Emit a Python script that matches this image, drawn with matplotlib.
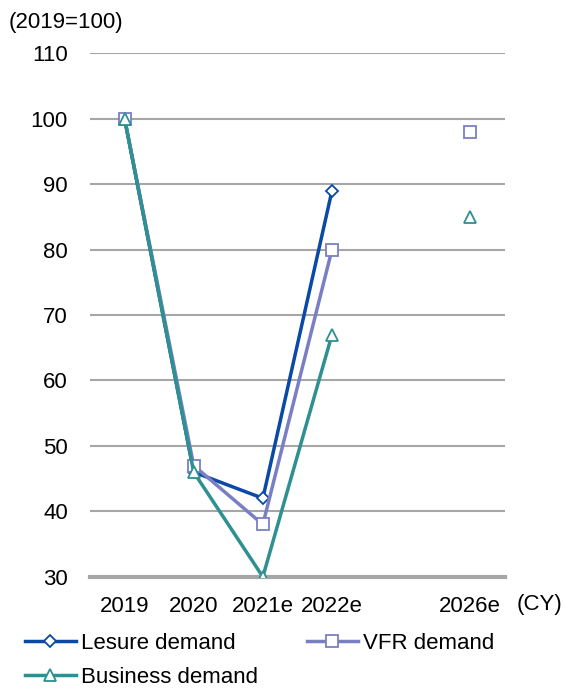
import numpy as np
import matplotlib.pyplot as plt
from matplotlib.lines import Line2D

plt.rcParams['font.family'] = ['Liberation Sans', 'DejaVu Sans']

years = ['2019', '2020', '2021e', '2022e', '', '2026e']
leisure = [100, 46, 42, 89, np.nan, np.nan]
vfr = [100, 47, 38, 80, np.nan, 98]
business = [100, 46, 30, 67, np.nan, 85]

c_leisure = '#0a4aa6'
c_vfr = '#7a7fc4'
c_business = '#2e9090'

FS = 16

fig = plt.figure(figsize=(5.66, 6.9), dpi=100)
ax = fig.add_axes([0.159, 0.164, 0.733, 0.759])

x = np.arange(len(years))
series = [
    ('Lesure demand', leisure, c_leisure, 'D', 6),
    ('VFR demand', vfr, c_vfr, 's', 9),
    ('Business demand', business, c_business, '^', 8.5),
]
for name, vals, col, mk, ms in series:
    ax.plot(x, vals, color=col, lw=2.5, marker=mk, ms=ms,
            mfc='white', mec=col, mew=1.3, zorder=3, label=name)

ax.set_xlim(-0.5, len(years) - 0.5)
ax.set_ylim(30, 110)
ax.set_yticks(range(30, 111, 10))
ax.set_xticks(x)
ax.set_xticklabels(years)
ax.tick_params(length=0, labelsize=FS)
ax.tick_params(axis='y', pad=16)
ax.tick_params(axis='x', pad=14)
ax.grid(axis='y', color='#a6a6a6', lw=1.5)
ax.set_axisbelow(True)
for s in ['top', 'right', 'left']:
    ax.spines[s].set_visible(False)
ax.spines['bottom'].set_color('#a6a6a6')
ax.spines['bottom'].set_linewidth(3)

fig.text(0.016, 0.967, '(2019=100)', fontsize=FS, va='center', ha='left')
fig.text(0.913, 0.124, '(CY)', fontsize=FS, va='center', ha='left')

# column-major fill: Lesure / Business in col 1, VFR in col 2
order = [0, 2, 1]
handles = [Line2D([0], [0], color=series[i][2], lw=2.5, marker=series[i][3],
                  ms=series[i][4], mfc='white', mec=series[i][2], mew=1.3)
           for i in order]
labels = [series[i][0] for i in order]
fig.legend(handles, labels, loc='upper left', bbox_to_anchor=(0.044, 0.083),
           ncol=2, frameon=False, fontsize=FS, handlelength=2.3,
           handletextpad=0.22, columnspacing=2.2, labelspacing=0.6,
           borderaxespad=0, borderpad=0)

fig.savefig('out.png', dpi=100)
